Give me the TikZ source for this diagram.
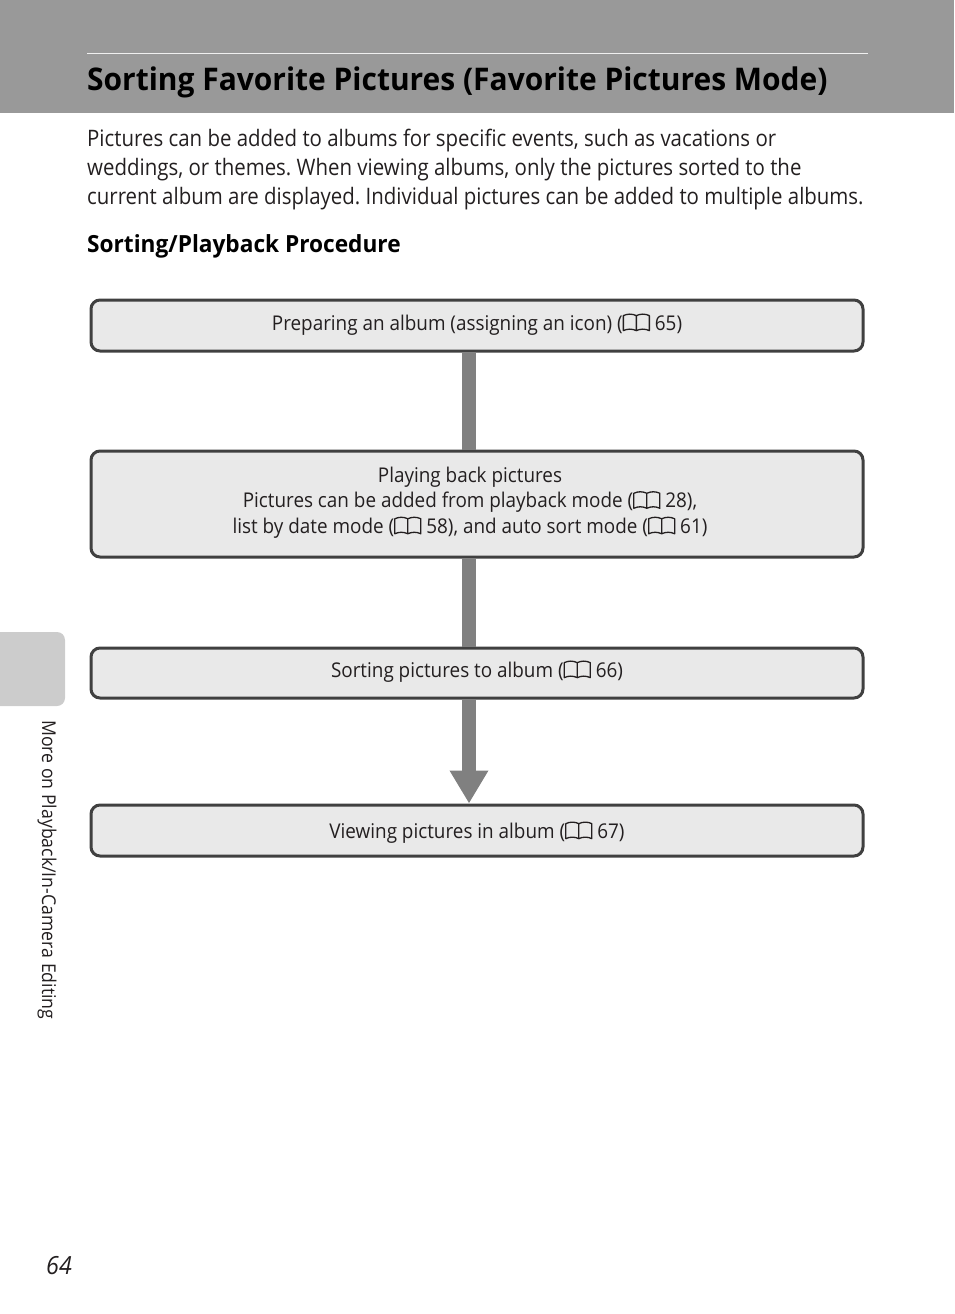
\documentclass[tikz,border=0pt]{standalone}
\usepackage{fontspec}
\setmainfont[FakeStretch=0.93]{Open Sans}
\newfontfamily\bodyfam[FakeStretch=0.9]{Open Sans}
\newfontfamily\headfam[FakeStretch=0.96]{Open Sans}
\usetikzlibrary{arrows.meta,calc}
\definecolor{bandgray}{HTML}{999999}
\definecolor{tabgray}{HTML}{CCCCCC}
\definecolor{boxfill}{HTML}{E9E9E9}
\definecolor{boxline}{HTML}{404040}
\definecolor{flowgray}{HTML}{808080}
\definecolor{inkcol}{HTML}{231F20}
\newcommand{\bookicon}{\tikz[baseline=2.5pt,x=1pt,y=1pt,line width=1.3pt,draw=inkcol,line join=round]{\draw (14,2) .. controls (10,4) and (5,4) .. (1,2) -- (1,17) .. controls (5,19) and (10,19) .. (14,17) .. controls (18,19) and (23,19) .. (27,17) -- (27,2) .. controls (23,4) and (18,4) .. (14,2) -- (14,17);}}
\tikzset{
  flowbox/.style={draw=boxline,fill=boxfill,line width=3pt,rounded corners=9pt,minimum width=772pt,anchor=north west,inner sep=0pt,outer sep=1.5pt},
  boxtext/.style={text=inkcol,font=\fontsize{20.3}{25.5}\selectfont,align=center,inner sep=0pt},
  bodytext/.style={text=inkcol,font=\bodyfam\fontsize{22.7}{29.5}\selectfont,anchor=base west,inner sep=0pt,align=left},
  flowline/.style={draw=flowgray,line width=14pt},
  flowarrow/.style={flowline,-{Triangle[length=33pt,width=36.5pt]}},
}
\frenchspacing
\begin{document}
\begin{tikzpicture}[x=1pt,y=-1pt]
\useasboundingbox (0,0) rectangle (954,1314);
\fill[bandgray] (0,0) rectangle (954,113);
\draw[white!85!bandgray,line width=1pt] (87,53.5) -- (868,53.5);
\node[anchor=base west,inner sep=0pt,text=black,font=\headfam\fontsize{31.2}{36}\selectfont\bfseries] (title) at (87,90) {Sorting Favorite Pictures (Favorite Pictures Mode)};
\node[bodytext] (intro1) at (87,146) {Pictures can be added to albums for specific events, such as vacations or};
\node[bodytext] (intro2) at (87,175) {weddings, or themes. When viewing albums, only the pictures sorted to the};
\node[bodytext] (intro3) at (87,204) {current album are displayed. Individual pictures can be added to multiple albums.};
\node[anchor=base west,inner sep=0pt,text=black,font=\headfam\fontsize{23.6}{28}\selectfont\bfseries] (sub) at (87,252) {Sorting/Playback Procedure};
\fill[tabgray,rounded corners=8pt] (-20,632) rectangle (65,706);
\node[rotate=-90,anchor=base west,inner sep=0pt,text=inkcol,font=\fontsize{19}{22}\selectfont] (side) at (42,720) {More on Playback/In-Camera Editing};
\node[anchor=base west,inner sep=0pt,text=inkcol,font=\fontsize{25}{28}\selectfont\itshape] (page) at (46,1274) {64};

\node[flowbox,minimum height=51pt] (a) at (89.5,298.5) {};
\node[flowbox,minimum height=106pt] (b) at (89.5,449.5) {};
\node[flowbox,minimum height=50pt] (c) at (89.5,646.5) {};
\node[flowbox,minimum height=51pt] (d) at (89.5,803.5) {};
\coordinate (spine) at (469,0);
\draw[flowline] (a.south -| spine) -- (b.north -| spine);
\draw[flowline] (b.south -| spine) -- (c.north -| spine);
\draw[flowarrow] (c.south -| spine) -- (d.north -| spine);

\node[boxtext] (ta) at (477,324) {Preparing an album (assigning an icon) (\bookicon{} 65)};
\node[boxtext] (tb) at (470,502.5) {Playing back pictures\\Pictures can be added from playback mode (\bookicon{} 28),\\list by date mode (\bookicon{} 58), and auto sort mode (\bookicon{} 61)};
\node[boxtext] (tc) at (477,671) {Sorting pictures to album (\bookicon{} 66)};
\node[boxtext] (td) at (477,832) {Viewing pictures in album (\bookicon{} 67)};
\end{tikzpicture}
\end{document}
